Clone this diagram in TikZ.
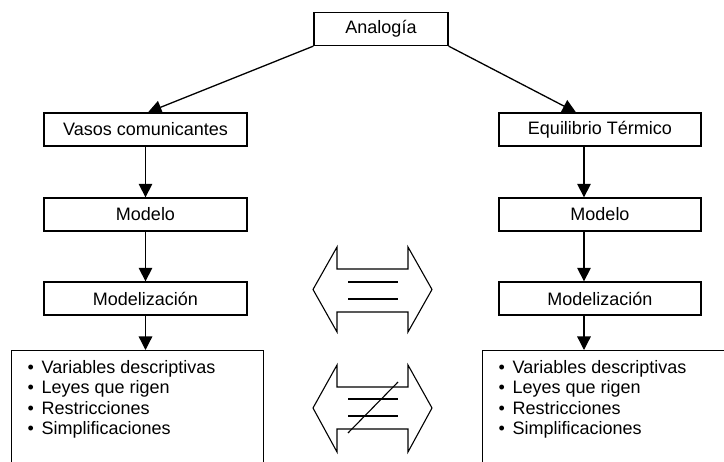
\documentclass[tikz,border=0pt]{standalone}
\usepackage{fontspec}
\setmainfont{Liberation Sans}
\usetikzlibrary{arrows.meta}
\newcommand{\punto}{\makebox[14pt][l]{\textbullet}}

\begin{document}
\begin{tikzpicture}
  [x=1pt,y=-1pt,
   caja/.style={draw,line width=1.3pt,minimum height=33pt,inner sep=0pt,font=\fontsize{18}{21}\selectfont},
   flecha/.style={line width=1.3pt,-{Triangle[length=13.5pt,width=13.5pt]}},
   lista/.style={draw,line width=1.3pt,anchor=north west,inner xsep=16pt,inner ysep=10pt,font=\fontsize{18}{20.3}\selectfont},
   signo/.style={line width=1.1pt}]
  \clip (0,0) rectangle (724,462);

  \node[caja,minimum width=134pt] (ana) at (381,29) {Analogía};

  \node[caja,minimum width=203pt] (vasos) at (145.5,129.5) {Vasos comunicantes};
  \node[caja,minimum width=203pt] (mod1) at (145.5,214.5) {Modelo};
  \node[caja,minimum width=203pt] (modz1) at (145.5,298.5) {Modelización};
  \node[lista] (lista1) at (11,350) {\begin{minipage}[t][130pt][t]{220pt}
    \punto Variables descriptivas\\
    \punto Leyes que rigen\\
    \punto Restricciones\\
    \punto Simplificaciones
  \end{minipage}};

  \node[caja,minimum width=202pt] (equi) at (600,129.5) {Equilibrio Térmico};
  \node[caja,minimum width=202pt] (mod2) at (600,214.5) {Modelo};
  \node[caja,minimum width=202pt] (modz2) at (600,298.5) {Modelización};
  \node[lista] (lista2) at (482,350) {\begin{minipage}[t][130pt][t]{240pt}
    \punto Variables descriptivas\\
    \punto Leyes que rigen\\
    \punto Restricciones\\
    \punto Simplificaciones
  \end{minipage}};

  \draw[flecha] (ana.south west) -- ([xshift=2.5pt]vasos.north);
  \draw[flecha] (ana.south east) -- ([xshift=-24pt]equi.north);

  \draw[flecha] (vasos) -- (mod1);
  \draw[flecha] (mod1) -- (modz1);
  \draw[flecha] (modz1) -- (modz1.south |- lista1.north);

  \draw[flecha] ([xshift=-16pt]equi.south) -- ([xshift=-16pt]mod2.north);
  \draw[flecha] ([xshift=-16pt]mod2.south) -- ([xshift=-16pt]modz2.north);
  \draw[flecha] ([xshift=-16pt]modz2.south) -- ([xshift=-16pt]modz2.south |- lista2.north);

  % igual
  \draw[signo] (313,289.5) -- (337,247) -- (337,269) -- (408,269) -- (408,247) -- (432,289.5)
    -- (408,332) -- (408,312) -- (337,312) -- (337,332) -- cycle;
  \draw[signo] (348,282) -- (398,282);
  \draw[signo] (348,299) -- (398,299);

  % distinto
  \draw[signo] (313,408) -- (337,365) -- (337,387) -- (408,387) -- (408,365) -- (432,408)
    -- (408,452) -- (408,429) -- (337,429) -- (337,452) -- cycle;
  \draw[signo] (348,399) -- (398,399);
  \draw[signo] (348,416) -- (398,416);
  \draw[signo] (348,433) -- (398,382);
\end{tikzpicture}
\end{document}
